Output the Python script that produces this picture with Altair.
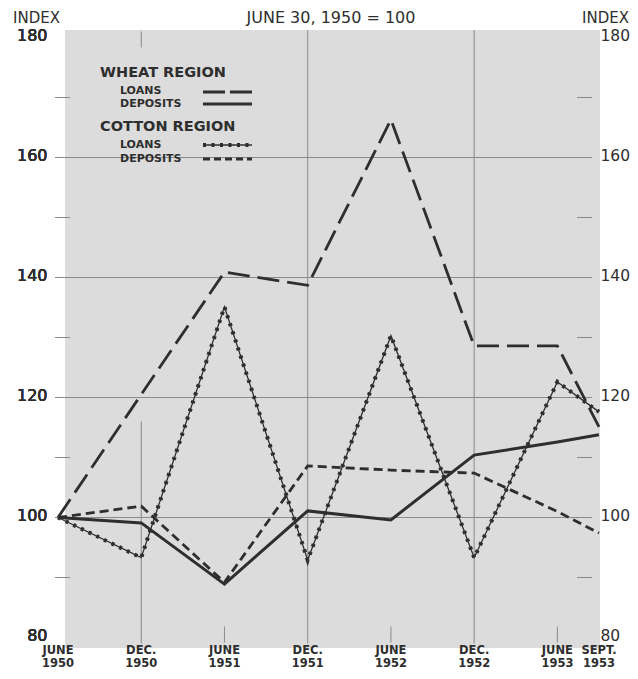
import altair as alt
import pandas as pd

# ---- data ----
months = [0, 6, 12, 18, 24, 30, 36, 39]
month_names = ["JUNE", "DEC.", "JUNE", "DEC.", "JUNE", "DEC.", "JUNE", "SEPT."]
years = ["1950", "1950", "1951", "1951", "1952", "1952", "1953", "1953"]

wheat_loans = [100, 120.5, 140.9, 138.7, 166.3, 128.6, 128.6, 115.1]
wheat_deposits = [100, 99.1, 88.9, 101.1, 99.6, 110.4, 112.6, 113.8]
cotton_loans = [100, 93.3, 135.1, 92.9, 130.3, 93.3, 122.6, 117.6]
cotton_deposits = [100, 101.9, 89.2, 108.6, 107.9, 107.4, 101.0, 97.4]

y_ticks = [80, 100, 120, 140, 160, 180]
major_grid = [100, 120, 140, 160]
minor_ticks = [90, 110, 130, 150, 170]
dec_full = [18, 30]
dec_partial = [6]
june_ticks = [12, 24, 36]

INK = "#2e2e2e"
GRID = "#8a8a8a"
FONT = "DejaVu Sans"

W, H = 541, 600

rows = []
for name, vals in [("wl", wheat_loans), ("wd", wheat_deposits),
                   ("cl", cotton_loans), ("cd", cotton_deposits)]:
    for m, v in zip(months, vals):
        rows.append({"m": m, "v": v, "s": name})
df = pd.DataFrame(rows)
xlab = pd.DataFrame({"m": months, "name": month_names, "year": years})

xscale = alt.Scale(domain=[0, 39], nice=False, zero=False)
yscale = alt.Scale(domain=[80, 180], nice=False, zero=False)

y_left = alt.Axis(values=y_ticks, title=None, domain=False, ticks=False, grid=False,
                  labelFont=FONT, labelFontSize=16, labelFontWeight="normal",
                  labelColor=INK, labelPadding=11, labelOffset=-2, orient="left")
y_right = alt.Axis(values=y_ticks, title=None, domain=False, ticks=False, grid=False,
                   labelFont=FONT, labelFontSize=15.5, labelFontWeight="normal",
                   labelColor=INK, labelPadding=1, labelOffset=-2, orient="right")

one = pd.DataFrame({"d": [0]})

# shaded background
shade = alt.Chart(one).mark_rect(fill="#dcdcdc").encode(
    x=alt.value(7), x2=alt.value(542), y=alt.value(-7.5), y2=alt.value(610.5))

# horizontal grid lines (carry the right axis)
hgrid = alt.Chart(pd.DataFrame({"v": major_grid})).mark_rule(
    color=GRID, strokeWidth=1).encode(
    y=alt.Y("v:Q", scale=yscale, axis=y_right),
    x=alt.value(-3), x2=alt.value(534))

minor_df = pd.DataFrame({"v": minor_ticks})
minor_l = alt.Chart(minor_df).mark_rule(color=GRID, strokeWidth=1).encode(
    y=alt.Y("v:Q", scale=yscale, axis=None), x=alt.value(-3), x2=alt.value(12))
minor_r = alt.Chart(minor_df).mark_rule(color=GRID, strokeWidth=1).encode(
    y=alt.Y("v:Q", scale=yscale, axis=None), x=alt.value(519), x2=alt.value(534))

vfull = alt.Chart(pd.DataFrame({"m": dec_full})).mark_rule(
    color=GRID, strokeWidth=1).encode(
    x=alt.X("m:Q", scale=xscale, axis=None), y=alt.value(-7.5), y2=alt.value(606))
vpart_low = alt.Chart(pd.DataFrame({"m": dec_partial})).mark_rule(
    color=GRID, strokeWidth=1).encode(
    x=alt.X("m:Q", scale=xscale, axis=None), y=alt.value(384), y2=alt.value(606))
vpart_top = alt.Chart(pd.DataFrame({"m": dec_partial})).mark_rule(
    color=GRID, strokeWidth=1).encode(
    x=alt.X("m:Q", scale=xscale, axis=None), y=alt.value(-6), y2=alt.value(10))
jticks = alt.Chart(pd.DataFrame({"m": june_ticks})).mark_rule(
    color=GRID, strokeWidth=1).encode(
    x=alt.X("m:Q", scale=xscale, axis=None), y=alt.value(589), y2=alt.value(605))

# x-axis labels (two lines) as text drawn through the x scale
xl_name = alt.Chart(xlab).mark_text(
    font=FONT, fontSize=11.5, fontWeight="bold", color=INK, baseline="middle").encode(
    x=alt.X("m:Q", scale=xscale, axis=None), y=alt.value(613.5), text="name:N")
xl_year = alt.Chart(xlab).mark_text(
    font=FONT, fontSize=11.5, fontWeight="bold", color=INK, baseline="middle").encode(
    x=alt.X("m:Q", scale=xscale, axis=None), y=alt.value(626.5), text="year:N")


def series_line(code, **style):
    return alt.Chart(df).transform_filter(alt.datum.s == code).mark_line(
        color=INK, strokeJoin="miter", **style).encode(
        x=alt.X("m:Q", scale=xscale, axis=None),
        y=alt.Y("v:Q", scale=yscale, axis=y_left),
        order="m:Q")


l_wl = series_line("wl", strokeWidth=2.8, strokeDash=[22, 8])
l_wd = series_line("wd", strokeWidth=3)
l_cl1 = series_line("cl", strokeWidth=1.3)
l_cl2 = series_line("cl", strokeWidth=4, strokeDash=[3, 5.5])
l_cd = series_line("cd", strokeWidth=2.8, strokeDash=[9, 5])


def txt(s, x, y, size, weight="normal", align="left"):
    return alt.Chart(one).mark_text(
        text=s, font=FONT, fontSize=size, fontWeight=weight, color=INK,
        align=align, baseline="middle").encode(x=alt.value(x), y=alt.value(y))


def sample(y, width, dash=None):
    kw = {"color": INK, "strokeWidth": width}
    if dash:
        kw["strokeDash"] = dash
    return alt.Chart(one).mark_rule(**kw).encode(
        x=alt.value(145), x2=alt.value(194), y=alt.value(y))


legend = [
    txt("WHEAT REGION", 42, 35.5, 14.5, "bold"),
    txt("LOANS", 62, 53, 11, "bold"),
    sample(54.5, 2.8, [22, 5]),
    txt("DEPOSITS", 62, 66.5, 11, "bold"),
    sample(66.5, 3),
    txt("COTTON REGION", 42, 89.5, 14.5, "bold"),
    txt("LOANS", 62, 107.5, 11, "bold"),
    sample(107.5, 1.3),
    sample(107.5, 4, [3, 5.5]),
    txt("DEPOSITS", 62, 121.5, 11, "bold"),
    sample(121.5, 2.8, [7, 4]),
]

heads = [
    txt("INDEX", -45, -19.5, 15),
    txt("JUNE 30, 1950 = 100", 273, -19.5, 16, align="center"),
    txt("INDEX", 571, -19.5, 15, align="right"),
]

chart = alt.layer(
    shade, hgrid, minor_l, minor_r, vfull, vpart_low, vpart_top, jticks,
    l_wl, l_wd, l_cl1, l_cl2, l_cd, xl_name, xl_year, *legend, *heads
).resolve_axis(y="independent").properties(
    width=W, height=H,
    autosize=alt.AutoSizeParams(type="none"),
    padding={"left": 50, "top": 29.5, "right": 31, "bottom": 33.5},
    background="white",
).configure_view(stroke=None)

chart.save("out.html", embed_options={"renderer": "svg", "actions": False})
